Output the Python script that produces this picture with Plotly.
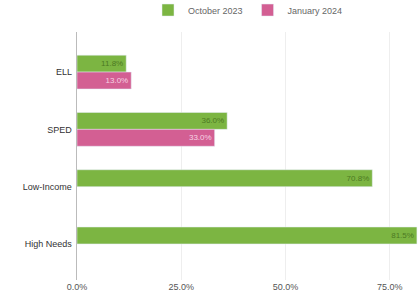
import plotly.graph_objects as go

categories = ["ELL", "SPED", "Low-Income", "High Needs"]
oct_2023 = [11.8, 36.0, 70.8, 81.5]
jan_2024 = [13.0, 33.0, None, None]
x_ticks = [0, 25, 50, 75]
x_tick_labels = ["0.0%", "25.0%", "50.0%", "75.0%"]

green = "#7cb542"
pink = "#d35f93"

fig = go.Figure()
fig.add_trace(go.Bar(
    y=categories, x=oct_2023, name="October 2023", orientation="h",
    marker=dict(color=green),
    text=[f"{v:.1f}%" for v in oct_2023], textposition="inside",
    insidetextanchor="end", textangle=0,
    textfont=dict(color="#4d7a22", size=8, family="Liberation Sans, Arial"),
))
fig.add_trace(go.Bar(
    y=categories, x=jan_2024, name="January 2024", orientation="h",
    marker=dict(color=pink),
    text=[f"{v:.1f}%" if v is not None else "" for v in jan_2024], textposition="inside",
    insidetextanchor="end", textangle=0,
    textfont=dict(color="#f6d3e3", size=8, family="Liberation Sans, Arial"),
))

fig.update_layout(
    width=419, height=305,
    margin=dict(l=77, r=0, t=32, b=25, autoexpand=False),
    paper_bgcolor="white", plot_bgcolor="white",
    barmode="group", bargap=0.41, bargroupgap=0.0,
    font=dict(family="Liberation Sans, Arial", size=9, color="#444"),
    showlegend=True,
    legend=dict(orientation="h", x=0.50, xanchor="center", y=1.03, yanchor="bottom",
                font=dict(size=9, color="#666"), traceorder="normal"),
    uniformtext=dict(minsize=6, mode="show"),
)
fig.update_xaxes(
    range=[0, 82], tickvals=x_ticks, ticktext=x_tick_labels,
    showgrid=True, gridcolor="#eeeeee", zeroline=False, automargin=False,
    showline=False, tickfont=dict(size=9, color="#555"), ticks="",
)
fig.update_yaxes(
    range=[3.63, -0.70], showgrid=False, zeroline=False, automargin=False,
    showline=True, linecolor="#bbbbbb", linewidth=1, ticks="",
    tickfont=dict(size=9, color="#333"), ticksuffix=" ",
)

fig.write_html("out.html", config={"displayModeBar": False},
               post_script="document.body.style.margin='0';document.body.style.overflow='hidden';")
